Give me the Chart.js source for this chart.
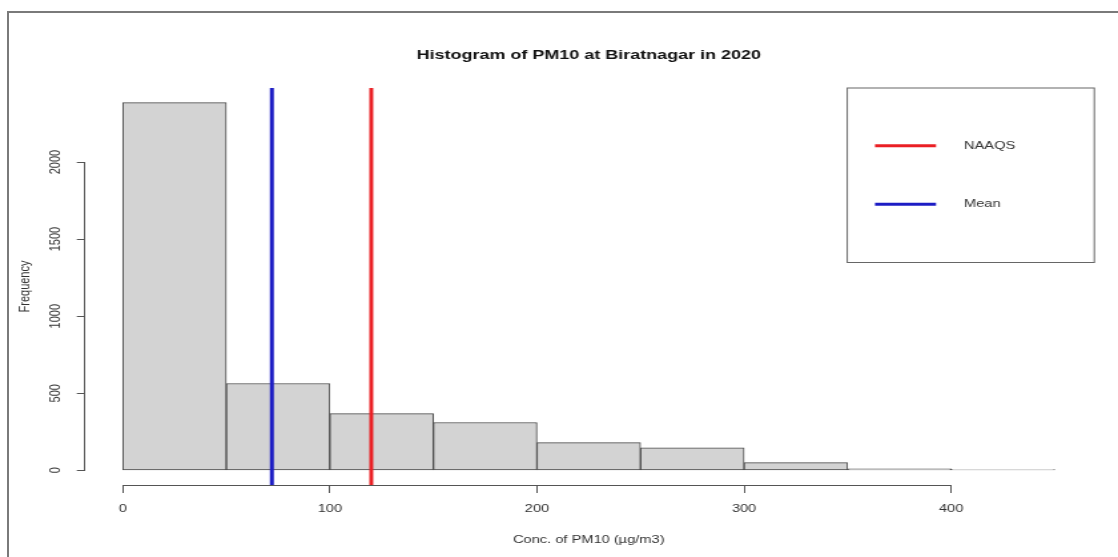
<!DOCTYPE html>
<html>
<head>
<meta charset="utf-8">
<title>Histogram of PM10 at Biratnagar in 2020</title>
<script src="https://cdn.jsdelivr.net/npm/chart.js@4.4.1/dist/chart.umd.min.js"></script>
<style>
  html, body { margin: 0; padding: 0; background: #fff; overflow: hidden; }
  #frame { position: absolute; left: 7px; top: 11px; width: 1130px; height: 570px; border: 2px solid #7a7a7a; }
  /* the picture is stretched sideways, so the chart is drawn narrow and widened */
  #wrap { position: absolute; left: 0; top: 0; width: 840px; height: 557px; transform-origin: 0 0; transform: scaleX(1.33095); }
</style>
</head>
<body>
<div id="frame"></div>
<div id="wrap"><canvas id="histChart"></canvas></div>
<script>
// histogram bins and counts
const binEdges = [0, 50, 100, 150, 200, 250, 300, 350, 400, 450];
const frequencies = [2385, 563, 368, 310, 180, 145, 50, 10, 4];
const xTickValues = [0, 100, 200, 300, 400];
const yTickValues = [0, 500, 1000, 1500, 2000];

// reference lines
const naaqsValue = 120;
const meanValue = 72;

const FONT = '"Liberation Sans", Arial, sans-serif';

// R pads each axis range by 4%
const xSpan = binEdges[binEdges.length - 1] - binEdges[0];
const xMin = binEdges[0] - 0.04 * xSpan;
const xMax = binEdges[binEdges.length - 1] + 0.04 * xSpan;
const yTop = Math.max(...frequencies);
const yMin = -0.04 * yTop;
const yMax = yTop * 1.04;

const barData = frequencies.map((f, i) => ({ x: (binEdges[i] + binEdges[i + 1]) / 2, y: f }));

// R style axes (line only between first and last tick) + boxed legend
const rAxesAndLegend = {
  id: 'rAxesAndLegend',
  afterDraw(chart) {
    const { ctx, chartArea: ca, scales: { x, y } } = chart;
    ctx.save();
    ctx.strokeStyle = '#555';
    ctx.lineWidth = 1;
    ctx.beginPath();
    const ax = Math.round(x.top) + 0.5;
    ctx.moveTo(x.getPixelForValue(xTickValues[0]), ax);
    ctx.lineTo(x.getPixelForValue(xTickValues[xTickValues.length - 1]), ax);
    const ay = Math.round(y.right) - 0.5;
    ctx.moveTo(ay, y.getPixelForValue(yTickValues[0]));
    ctx.lineTo(ay, y.getPixelForValue(yTickValues[yTickValues.length - 1]));
    ctx.stroke();

    // legend box
    const bw = 185.6, bh = 174.5;
    const bx = ca.right + 1.7 - bw, by = ca.top;
    ctx.fillStyle = '#fff';
    ctx.fillRect(bx, by, bw, bh);
    ctx.strokeStyle = '#666';
    ctx.strokeRect(bx, by, bw, bh);
    const lines = chart.data.datasets.filter(d => d.type === 'line');
    ctx.font = '11px ' + FONT;
    ctx.textBaseline = 'middle';
    ctx.textAlign = 'left';
    lines.forEach((d, i) => {
      const ly = by + 57.7 + i * 58.6;
      ctx.strokeStyle = d.borderColor;
      ctx.lineWidth = 3;
      ctx.beginPath();
      ctx.moveTo(bx + 20.8, ly);
      ctx.lineTo(bx + 66.7, ly);
      ctx.stroke();
      ctx.fillStyle = '#333';
      ctx.fillText(d.label, bx + 87.7, ly);
    });
    ctx.restore();
  }
};

new Chart(document.getElementById('histChart'), {
  data: {
    datasets: [
      {
        type: 'line', label: 'NAAQS', order: 0,
        data: [{ x: naaqsValue, y: yMin }, { x: naaqsValue, y: yMax }],
        borderColor: '#ea1f24', borderWidth: 3, pointRadius: 0
      },
      {
        type: 'line', label: 'Mean', order: 0,
        data: [{ x: meanValue, y: yMin }, { x: meanValue, y: yMax }],
        borderColor: '#1c1cc4', borderWidth: 3, pointRadius: 0
      },
      {
        type: 'bar', label: 'Frequency', order: 1,
        data: barData,
        backgroundColor: '#d3d3d3', borderColor: '#4a4a4a', borderWidth: 1,
        borderSkipped: false, barPercentage: 1, categoryPercentage: 1
      }
    ]
  },
  options: {
    responsive: true,
    maintainAspectRatio: false,
    animation: false,
    layout: { padding: { left: 0, right: 19.5, top: 0, bottom: 0 } },
    plugins: {
      legend: { display: false },
      tooltip: { enabled: false },
      title: {
        display: true,
        fullSize: false,
        text: 'Histogram of PM10 at Biratnagar in 2020',
        color: '#111',
        font: { family: FONT, size: 13.5, weight: 'bold' },
        padding: { top: 46.9, bottom: 24.9 }
      }
    },
    scales: {
      x: {
        type: 'linear', min: xMin, max: xMax, offset: false,
        afterBuildTicks: s => { s.ticks = xTickValues.map(v => ({ value: v })); },
        afterFit: s => { s.height = 72; },
        grid: { offset: false, drawOnChartArea: false, drawTicks: true, tickLength: 8, color: '#555' },
        border: { display: false },
        ticks: { color: '#333', font: { family: FONT, size: 11 }, padding: 9, maxRotation: 0, autoSkip: false, callback: v => String(v) },
        title: { display: true, text: 'Conc. of PM10 (µg/m3)', color: '#333', font: { family: FONT, size: 11 }, padding: { top: 0, bottom: 10.4 } }
      },
      y: {
        type: 'linear', min: yMin, max: yMax,
        afterBuildTicks: s => { s.ticks = yTickValues.map(v => ({ value: v })); },
        afterFit: s => { s.width = 64.2; },
        grid: { offset: false, drawOnChartArea: false, drawTicks: true, tickLength: 6.5, color: '#555' },
        border: { display: false },
        ticks: { color: '#333', font: { family: FONT, size: 11 }, padding: 3, minRotation: 90, maxRotation: 90, crossAlign: 'center', autoSkip: false, callback: v => String(v) },
        title: { display: true, text: 'Frequency', color: '#333', font: { family: FONT, size: 11 }, padding: { top: 12, bottom: 0 } }
      }
    }
  },
  plugins: [rAxesAndLegend]
});
</script>
</body>
</html>
